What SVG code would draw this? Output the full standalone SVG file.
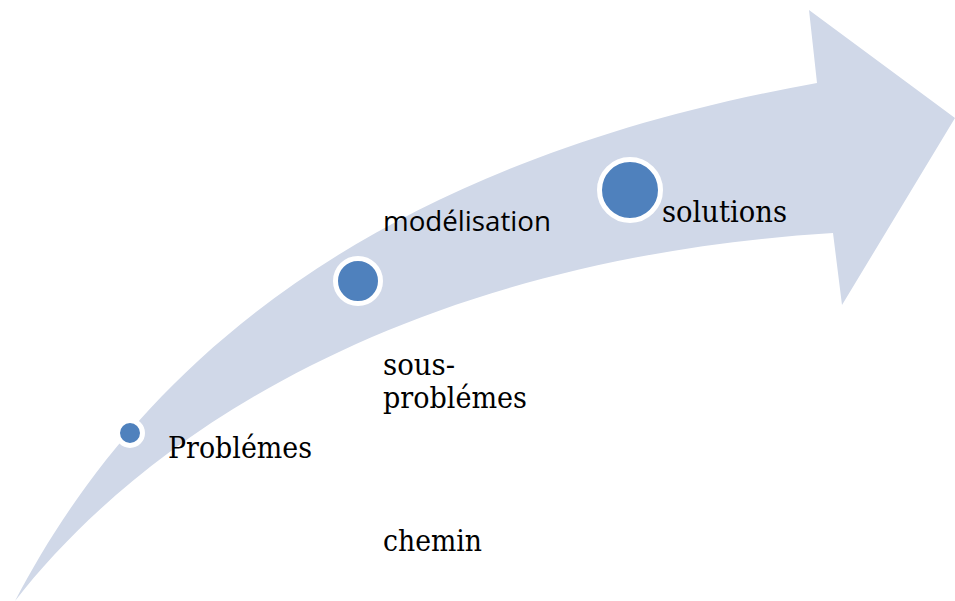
<svg xmlns="http://www.w3.org/2000/svg" width="955" height="601" viewBox="0 0 955 601">
  <style>
    .band { fill: #D0D8E8; }
    .dot { fill: #4F81BD; stroke: #FFFFFF; stroke-width: 5; }
    .serif { font-family: "DejaVu Serif", "Liberation Serif", serif; font-size: 29px; fill: #000000; }
    .sans { font-family: "Open Sans", "Noto Sans", "Liberation Sans", sans-serif; font-size: 27px; fill: #000000; }
  </style>
  <rect width="955" height="601" fill="#FFFFFF"/>

  <!-- curved ascending arrow -->
  <g id="arrow">
    <path class="band" d="M15,601 C120,400 330,170 817,83 L809,10 L955,118 L842,305 L833,233 C400,260 140,440 15,601 Z"/>
  </g>

  <g id="step-problemes">
    <circle class="dot" cx="130" cy="433" r="12.5"/>
    <text class="serif" x="168" y="458" textLength="144" lengthAdjust="spacingAndGlyphs">Problémes</text>
  </g>

  <g id="step-modelisation">
    <circle class="dot" cx="358" cy="281" r="22.5"/>
    <text class="sans" x="383" y="231" textLength="168" lengthAdjust="spacingAndGlyphs">modélisation</text>
  </g>

  <g id="step-solutions">
    <circle class="dot" cx="630" cy="190" r="30.5"/>
    <text class="serif" x="662" y="222" textLength="125" lengthAdjust="spacingAndGlyphs">solutions</text>
  </g>

  <g id="label-sous-problemes">
    <text class="serif" x="383" y="375" textLength="72" lengthAdjust="spacingAndGlyphs">sous-</text>
    <text class="serif" x="383" y="408" textLength="144" lengthAdjust="spacingAndGlyphs">problémes</text>
  </g>

  <g id="label-chemin">
    <text class="serif" x="383" y="551" textLength="99" lengthAdjust="spacingAndGlyphs">chemin</text>
  </g>
</svg>
